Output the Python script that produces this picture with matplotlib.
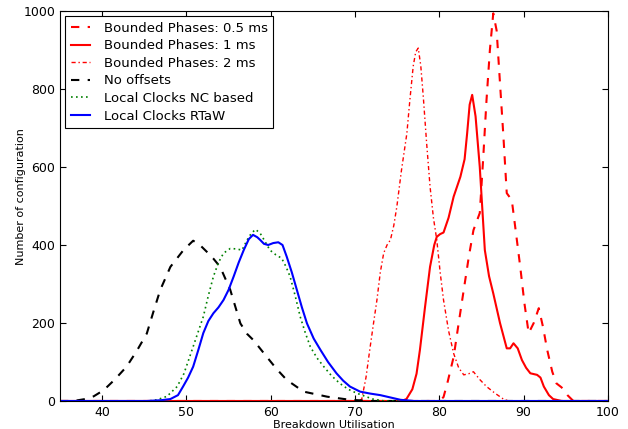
import matplotlib
matplotlib.use("Agg")
import matplotlib.pyplot as plt

# Bounded Phases 0.5 ms
bp05_x = [35, 80.0, 80.5, 81.0, 81.7, 82.3, 82.9, 83.5, 84.05, 84.8, 85.2, 85.6, 86.0, 86.4, 86.8, 87.2, 87.6, 88.0, 88.6, 89.1, 89.6, 90.1, 90.6, 91.2, 91.8, 92.3, 92.8, 93.4, 93.9, 94.5, 95.2, 95.9, 100]
bp05_y = [0, 0, 10, 50, 113, 200, 285, 370, 438, 482, 620, 772, 900, 994, 950, 815, 680, 533, 515, 430, 344, 250, 174, 200, 238, 190, 131, 75, 45, 35, 15, 0, 0]

# Bounded Phases 1 ms
bp1_x = [35, 75.5, 76.1, 76.8, 77.3, 77.7, 78.3, 78.9, 79.4, 79.7, 80.1, 80.5, 81.1, 81.7, 82.5, 83.0, 83.3, 83.6, 83.9, 84.3, 84.8, 85.4, 85.9, 86.4, 87.2, 88.0, 88.4, 88.8, 89.3, 89.8, 90.3, 90.8, 91.6, 92.0, 92.4, 93.0, 93.5, 94.5, 100]
bp1_y = [0, 0, 5, 30, 70, 131, 240, 344, 400, 421, 428, 432, 470, 524, 575, 620, 686, 760, 785, 730, 600, 387, 320, 276, 200, 135, 135, 148, 135, 105, 85, 71, 67, 60, 37, 15, 5, 0, 0]

# Bounded Phases 2 ms
bp2_x = [35, 70.5, 70.8, 71.3, 71.8, 72.2, 72.6, 73.0, 73.4, 73.8, 74.2, 74.6, 74.96, 75.5, 76.15, 76.5, 76.9, 77.2, 77.5, 77.8, 78.1, 78.5, 78.9, 79.3, 79.7, 80.1, 80.5, 81.1, 81.7, 82.3, 82.9, 83.5, 84.05, 84.8, 85.6, 86.6, 87.6, 88.2, 100]
bp2_y = [0, 0, 5, 60, 139, 200, 259, 330, 379, 400, 413, 450, 498, 590, 686, 770, 858, 895, 905, 860, 780, 660, 550, 470, 413, 330, 259, 180, 122, 85, 67, 70, 75, 55, 37, 20, 5, 0, 0]

# No offsets
noo_x = [35, 36.6, 38, 39, 40.2, 41.5, 42.9, 44.1, 45.3, 46.1, 46.9, 48.1, 49.65, 50.8, 51.6, 52.4, 53.2, 54.0, 55.2, 56.4, 57.2, 57.95, 59.5, 60.7, 61.9, 63.9, 66.7, 69.4, 72, 100]
noo_y = [0, 0, 5, 12, 28, 55, 88, 128, 173, 230, 285, 344, 387, 411, 400, 383, 365, 344, 285, 199, 172, 156, 114, 82, 54, 24, 11, 3, 0, 0]

# Local Clocks NC based
nc_x = [35, 45.5, 46.5, 47.7, 48.9, 49.7, 50.4, 51.2, 52.0, 52.6, 53.2, 53.8, 54.4, 55.2, 55.9, 56.6, 57.2, 57.7, 58.2, 58.75, 59.3, 59.9, 60.6, 61.3, 61.8, 62.3, 62.9, 63.5, 64.1, 64.7, 65.5, 66.3, 67.2, 68.2, 69.2, 70.2, 71.2, 72.1, 73.5, 100]
nc_y = [0, 0, 3, 12, 37, 70, 114, 165, 216, 270, 319, 355, 379, 391, 390, 387, 413, 430, 440, 430, 410, 387, 375, 366, 345, 319, 270, 216, 175, 139, 110, 88, 65, 45, 30, 20, 12, 5, 0, 0]

# Local Clocks RTaW
rtaw_x = [35, 45.3, 47, 48.1, 49.0, 49.6, 50.2, 50.8, 51.4, 52.0, 52.6, 53.2, 53.8, 54.4, 55.0, 55.6, 56.2, 56.8, 57.4, 57.9, 58.4, 58.75, 59.2, 59.7, 60.3, 60.9, 61.4, 61.9, 62.5, 63.1, 63.7, 64.3, 65.1, 65.9, 66.8, 67.8, 68.6, 69.4, 70.6, 71.8, 73.0, 74.2, 75.4, 77, 100]
rtaw_y = [0, 0, 2, 5, 15, 37, 60, 88, 130, 174, 205, 225, 240, 259, 285, 319, 355, 387, 415, 426, 420, 413, 403, 400, 405, 407, 400, 370, 330, 285, 240, 199, 160, 131, 100, 71, 52, 37, 24, 19, 15, 9, 3, 0, 0]

labels = ["Bounded Phases: 0.5 ms", "Bounded Phases: 1 ms", "Bounded Phases: 2 ms",
          "No offsets", "Local Clocks NC based", "Local Clocks RTaW"]
xticks = [40, 50, 60, 70, 80, 90, 100]
yticks = [0, 200, 400, 600, 800, 1000]

fig = plt.figure(figsize=(6.28, 4.29), dpi=100)
ax = fig.add_axes([0.0955, 0.0653, 0.8725, 0.909])

ax.plot(bp05_x, bp05_y, color="red", ls=(0, (4, 4)), lw=1.5, label=labels[0])
ax.plot(bp1_x, bp1_y, color="red", ls="-", lw=1.5, label=labels[1])
ax.plot(bp2_x, bp2_y, color="red", ls=(0, (3, 2, 1, 2)), lw=1.0, label=labels[2])
ax.plot(noo_x, noo_y, color="black", ls=(0, (4, 4)), lw=1.5, label=labels[3])
ax.plot(nc_x, nc_y, color="green", ls=(0, (1, 2)), lw=1.2, label=labels[4])
ax.plot(rtaw_x, rtaw_y, color="blue", ls="-", lw=1.5, label=labels[5])

ax.set_xlim(35, 100)
ax.set_ylim(0, 1000)
ax.set_xticks(xticks)
ax.set_yticks(yticks)
ax.tick_params(direction="in", top=True, right=True, labelsize=9, length=4)
ax.set_xlabel("Breakdown Utilisation", fontsize=8, labelpad=1)
ax.set_ylabel("Number of configuration", fontsize=8, labelpad=2)
ax.yaxis.set_label_coords(-0.062, 0.525)

leg = ax.legend(loc="upper left", fontsize=9.5, handlelength=1.5, handletextpad=1.0,
                labelspacing=0.35, borderaxespad=0.4, fancybox=False, framealpha=1)
leg.get_frame().set_edgecolor("black")
leg.get_frame().set_linewidth(0.8)

fig.savefig("out.png", dpi=100)
